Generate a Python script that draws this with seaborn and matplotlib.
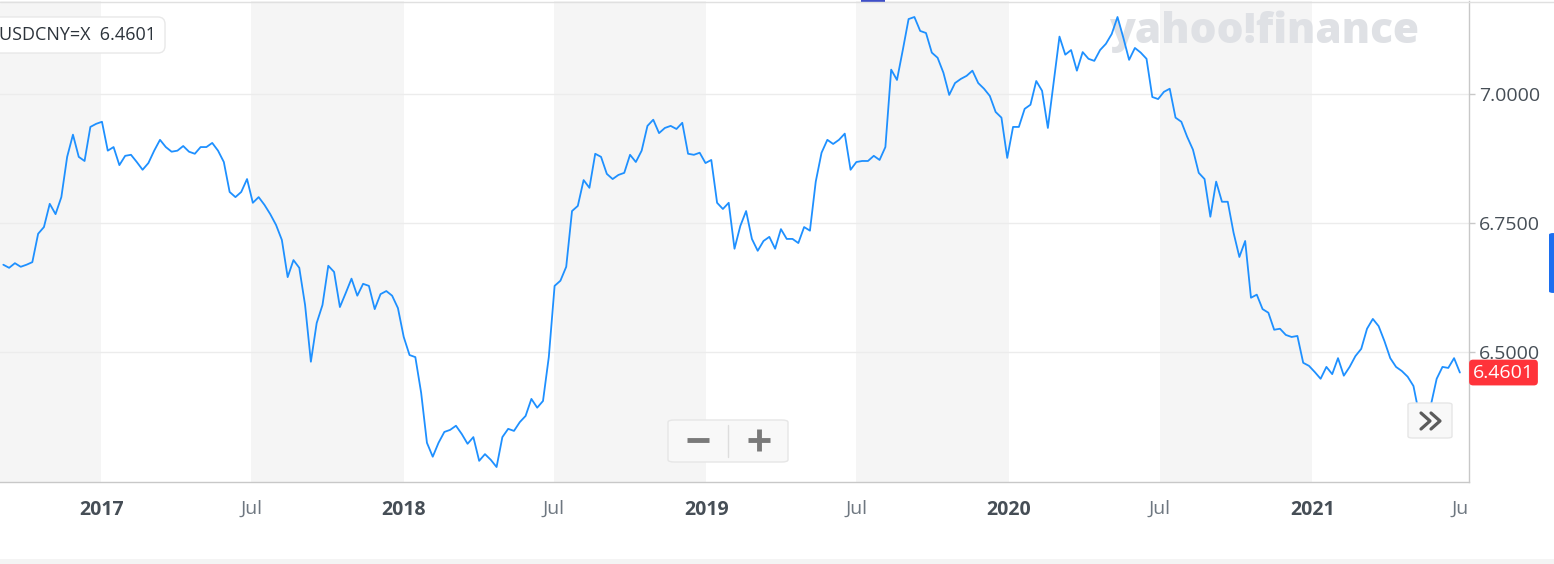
import matplotlib
matplotlib.use('Agg')

import matplotlib.pyplot as plt
from matplotlib.lines import Line2D
from matplotlib.patches import FancyBboxPatch, Rectangle
from matplotlib.transforms import Bbox, TransformedBbox
import seaborn as sns
import pandas as pd

# Datos semanales USD/CNY
symbol = 'USDCNY=X'
last_price = 6.4601
start_date = '2016-09-05'
prices = [
    6.669, 6.663, 6.672, 6.665, 6.669, 6.674, 6.729, 6.742, 6.787, 6.767,
    6.800, 6.878, 6.921, 6.878, 6.870, 6.936, 6.942, 6.946, 6.890, 6.897,
    6.862, 6.880, 6.882, 6.868, 6.853, 6.866, 6.890, 6.911, 6.897, 6.888,
    6.890, 6.899, 6.888, 6.884, 6.897, 6.897, 6.905, 6.890, 6.868, 6.810,
    6.800, 6.810, 6.835, 6.789, 6.800, 6.785, 6.767, 6.746, 6.717, 6.645,
    6.678, 6.663, 6.591, 6.481, 6.556, 6.591, 6.667, 6.655, 6.587, 6.614,
    6.642, 6.609, 6.632, 6.628, 6.583, 6.612, 6.618, 6.609, 6.585, 6.529,
    6.494, 6.490, 6.421, 6.324, 6.297, 6.324, 6.345, 6.349, 6.357, 6.341,
    6.322, 6.335, 6.289, 6.302, 6.291, 6.277, 6.335, 6.351, 6.347, 6.364,
    6.376, 6.409, 6.392, 6.405, 6.490, 6.628, 6.638, 6.665, 6.773, 6.783,
    6.833, 6.818, 6.884, 6.878, 6.845, 6.835, 6.843, 6.847, 6.882, 6.868,
    6.890, 6.938, 6.950, 6.924, 6.934, 6.938, 6.932, 6.944, 6.884, 6.882,
    6.886, 6.866, 6.872, 6.789, 6.777, 6.789, 6.700, 6.744, 6.773, 6.719,
    6.696, 6.715, 6.723, 6.700, 6.738, 6.719, 6.719, 6.711, 6.742, 6.735,
    6.830, 6.886, 6.911, 6.903, 6.911, 6.923, 6.853, 6.868, 6.870, 6.870,
    6.880, 6.872, 6.897, 7.047, 7.027, 7.085, 7.145, 7.149, 7.122, 7.118,
    7.080, 7.070, 7.041, 6.998, 7.021, 7.029, 7.035, 7.045, 7.021, 7.010,
    6.996, 6.965, 6.954, 6.876, 6.936, 6.936, 6.971, 6.979, 7.025, 7.006,
    6.934, 7.023, 7.111, 7.076, 7.085, 7.045, 7.081, 7.068, 7.064, 7.085,
    7.097, 7.116, 7.149, 7.109, 7.066, 7.089, 7.080, 7.068, 6.994, 6.990,
    7.004, 7.010, 6.954, 6.946, 6.917, 6.892, 6.847, 6.835, 6.762, 6.830,
    6.791, 6.791, 6.731, 6.684, 6.715, 6.605, 6.611, 6.583, 6.576, 6.543,
    6.545, 6.533, 6.529, 6.531, 6.479, 6.473, 6.461, 6.448, 6.471, 6.457,
    6.488, 6.454, 6.471, 6.492, 6.506, 6.545, 6.564, 6.550, 6.521, 6.488,
    6.471, 6.463, 6.452, 6.434, 6.378, 6.372, 6.397, 6.448, 6.471, 6.469,
    6.488, 6.4601,
]
y_ticks = [6.5, 6.75, 7.0]
tick_dates = ['2017-01-01', '2017-07-01', '2018-01-01', '2018-07-01', '2019-01-01',
              '2019-07-01', '2020-01-01', '2020-07-01', '2021-01-01', '2021-07-01']
tick_labels = ['2017', 'Jul', '2018', 'Jul', '2019', 'Jul', '2020', 'Jul', '2021', 'Jul']
band_starts = ['2016-07-01', '2017-07-01', '2018-07-01', '2019-07-01', '2020-07-01']
band_ends = ['2017-01-01', '2018-01-01', '2019-01-01', '2020-01-01', '2021-01-01']

df = pd.DataFrame({
    'date': pd.date_range(start_date, periods=len(prices), freq='W-MON'),
    'price': prices,
})

sns.set_theme(style='white')
plt.rcParams['font.family'] = ['Open Sans', 'DejaVu Sans']

W, H = 1554, 564
fig = plt.figure(figsize=(W / 100, H / 100), dpi=100)
fig.patch.set_facecolor('white')


def fx(x):
    return x / W


def fy(y):
    return 1 - y / H


ax = fig.add_axes([0, fy(482), fx(1469), 481 / H])
ax.set_facecolor('white')
ax.set_axisbelow(True)

for s, e in zip(band_starts, band_ends):
    ax.axvspan(pd.Timestamp(s), pd.Timestamp(e), color='#f5f5f5', lw=0, zorder=0)

# marca de agua
ax.text(fx(1264) / fx(1469), (482 - 32) / 481, 'yahoo!finance', transform=ax.transAxes,
        ha='center', va='center', fontsize=30.5, fontweight='heavy', color='#dfe1e5', zorder=1)

sns.lineplot(data=df, x='date', y='price', ax=ax, color='#1e90ff', linewidth=1.3, zorder=3)

ax.set_xlim(pd.Timestamp('2016-09-01'), pd.Timestamp('2021-07-09'))
ax.set_ylim(6.248, 7.180)
ax.set_xlabel('')
ax.set_ylabel('')

ax.yaxis.tick_right()
ax.set_yticks(y_ticks)
ax.set_yticklabels([f'{v:.4f}' for v in y_ticks])
ax.yaxis.grid(True, color='#ececec', lw=1)
ax.xaxis.grid(False)
ax.tick_params(axis='y', length=4, width=1, color='#c8c8c8', pad=3,
               labelsize=14, labelcolor='#464e56')

ax.set_xticks(pd.to_datetime(tick_dates))
ax.set_xticklabels(tick_labels)
ax.tick_params(axis='x', length=5, width=1, color='#c8c8c8', pad=8, labelsize=14)
clip = TransformedBbox(Bbox([[0, 0], [fx(1469), 1]]), fig.transFigure)
for lbl in ax.get_xticklabels():
    if lbl.get_text() == 'Jul':
        lbl.set_color('#6e7780')
    else:
        lbl.set_color('#464e56')
        lbl.set_fontweight('bold')
    lbl.set_clip_box(clip)
    lbl.set_clip_on(True)

for side in ['left', 'top']:
    ax.spines[side].set_visible(False)
for side in ['right', 'bottom']:
    ax.spines[side].set_color('#c8c8c8')
    ax.spines[side].set_linewidth(1)

# etiqueta del ultimo precio
ax.annotate(f'{last_price:.4f}', xy=(1, last_price), xycoords=('axes fraction', 'data'),
            xytext=(4, 0), textcoords='offset pixels', ha='left', va='center',
            fontsize=14, color='white', annotation_clip=False,
            bbox=dict(boxstyle='round,pad=0.2,rounding_size=0.2', fc='#ff333a', ec='none'))

# caja de informacion
fig.text(fx(-1), fy(35), f'{symbol}  {last_price:.4f}', ha='left', va='center',
         fontsize=13, color='#2c333b',
         bbox=dict(boxstyle='round,pad=0.5,rounding_size=0.4', fc='white', ec='#e8e8e8', lw=1))

# linea superior y banda inferior
fig.add_artist(Line2D([0, 1], [fy(1.5), fy(1.5)], transform=fig.transFigure, color='#e0e0e0', lw=1))
fig.add_artist(Rectangle((0, 0), 1, 5 / H, transform=fig.transFigure, color='#f4f4f4', lw=0))
fig.add_artist(Rectangle((fx(861), fy(3)), 24 / W, 3 / H, transform=fig.transFigure,
                         color='#3f4fc8', lw=0))
fig.add_artist(FancyBboxPatch((fx(1549), fy(293)), 8 / W, 60 / H, transform=fig.transFigure,
                              boxstyle='round,pad=0,rounding_size=0.003', fc='#1c6ff0', ec='none'))

# botones de zoom
fig.add_artist(FancyBboxPatch((fx(668), fy(462)), 120 / W, 42 / H, transform=fig.transFigure,
                              boxstyle='round,pad=0,rounding_size=0.004', fc='#f8f8f8', ec='#e6e6e6'))
fig.add_artist(Line2D([fx(728), fx(728)], [fy(425), fy(457)], transform=fig.transFigure,
                      color='#dddddd', lw=1))
fig.add_artist(Line2D([fx(687), fx(709)], [fy(440), fy(440)], transform=fig.transFigure,
                      color='#7a7a7a', lw=3.5, solid_capstyle='butt'))
fig.add_artist(Line2D([fx(748), fx(770)], [fy(440), fy(440)], transform=fig.transFigure,
                      color='#7a7a7a', lw=3.5, solid_capstyle='butt'))
fig.add_artist(Line2D([fx(759), fx(759)], [fy(429), fy(451)], transform=fig.transFigure,
                      color='#7a7a7a', lw=3.5, solid_capstyle='butt'))

# boton >>
fig.add_artist(FancyBboxPatch((fx(1408), fy(438)), 44 / W, 35 / H, transform=fig.transFigure,
                              boxstyle='round,pad=0,rounding_size=0.003', fc='#f8f8f8', ec='#e6e6e6'))
for x0 in [1421, 1431]:
    fig.add_artist(Line2D([fx(x0), fx(x0 + 9), fx(x0)], [fy(413), fy(421), fy(429)],
                          transform=fig.transFigure, color='#5b5b5b', lw=2.3))

fig.savefig('out.png', dpi=100)
